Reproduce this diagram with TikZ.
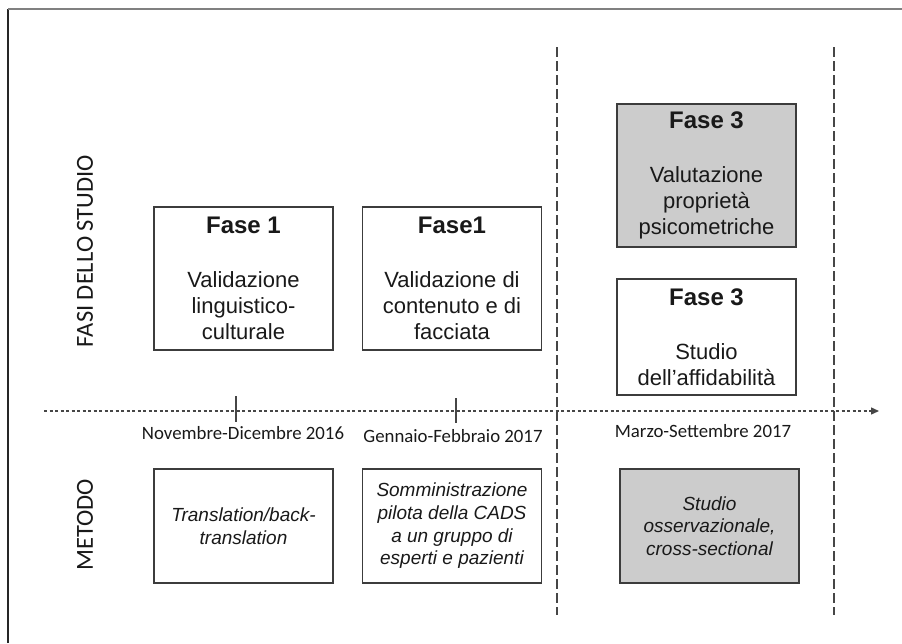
\documentclass[tikz,border=0pt]{standalone}
\usepackage{fontspec}
\setmainfont{Liberation Sans}
\newfontfamily\calfont{Carlito}
\usetikzlibrary{arrows.meta}
\definecolor{boxline}{RGB}{60,60,60}
\definecolor{boxfill}{RGB}{204,204,204}
\definecolor{txt}{RGB}{25,25,25}
\definecolor{axisgray}{RGB}{70,70,70}
\tikzset{
  phasebox/.style={draw=boxline, line width=1.3pt, minimum width=179pt, align=center, inner sep=0pt, text=txt, font=\fontsize{22}{26}\selectfont},
  methodbox/.style={phasebox, minimum height=114pt, font=\itshape\fontsize{19}{22.7}\selectfont},
  datelabel/.style={text=txt, font=\calfont\fontsize{18.8}{21}\selectfont},
  sidelabel/.style={rotate=90, text=txt, font=\calfont\fontsize{24.5}{27}\selectfont},
  divider/.style={axisgray, line width=1.2pt, dash pattern=on 10pt off 4pt},
}
\newcommand{\phasetitle}[1]{{\bfseries\fontsize{24}{26}\selectfont #1}\\[28pt]}
\begin{document}
\begin{tikzpicture}[x=1pt, y=-1pt, line cap=butt, line join=miter]
            \useasboundingbox (0,0) rectangle (902,643);
            % frame
            \draw[line width=1.3pt, black!85] (8,643) -- (8,9);
            \draw[line width=1.5pt, black!50] (8,9) -- (902,9);
            % vertical dividers
            \coordinate (divAtop) at (557,47); \coordinate (divAbot) at (557,615);
            \coordinate (divBtop) at (834,47); \coordinate (divBbot) at (834,615);
            \draw[divider] (divAtop) -- (divAbot);
            \draw[divider] (divBtop) -- (divBbot);
            % time axis
            \coordinate (axisL) at (44,411); \coordinate (axisR) at (879,411);
            \draw[axisgray, line width=1.4pt, dash pattern=on 3pt off 2.5pt, -{Triangle[length=8pt, width=7pt]}] (axisL) -- (axisR);
            \foreach \x/\a/\b in {236/396/422, 456/398/423}
            \draw[axisgray, line width=1.3pt] (\x,\a) -- (\x,\b);
            % phase boxes
            \node[phasebox, minimum height=143pt] (faseA) at (243.5,278.5) {\phasetitle{Fase 1}Validazione\\linguistico-\\culturale};
            \node[phasebox, minimum height=143pt] (faseB) at (452,278.5) {\phasetitle{Fase1}Validazione di\\contenuto e di\\facciata};
            \node[phasebox, minimum height=143pt, fill=boxfill] (faseC) at (706.5,175.5) {\phasetitle{Fase 3}Valutazione\\propriet\`a\\psicometriche};
            \node[phasebox, minimum height=116pt] (faseD) at (706.5,337) {\phasetitle{Fase 3}Studio\\dell’affidabilit\`a};
            % dates
            \node[datelabel] (dateA) at (243,433) {Novembre-Dicembre 2016};
            \node[datelabel] (dateB) at (453,436) {Gennaio-Febbraio 2017};
            \node[datelabel] (dateC) at (703,431) {Marzo-Settembre 2017};
            % method boxes
            \node[methodbox] (metA) at (243.5,526) {Translation/back-\\translation};
            \node[methodbox] (metB) at (452,526) {Somministrazione\\pilota della CADS\\a un gruppo di\\esperti e pazienti};
            \node[methodbox, fill=boxfill] (metC) at (709.5,526) {Studio\\osservazionale,\\cross-sectional};
            % row labels
            \node[sidelabel] (rowA) at (85,251) {FASI DELLO STUDIO};
            \node[sidelabel] (rowB) at (85,525) {METODO};
        \end{tikzpicture}
\end{document}
